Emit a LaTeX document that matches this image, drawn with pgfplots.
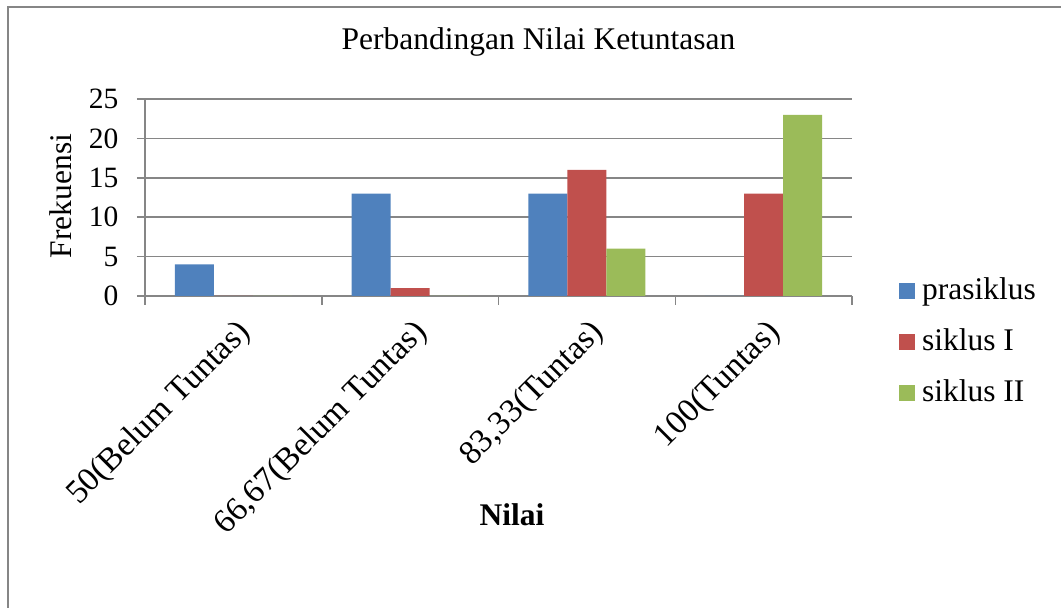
\documentclass[border=0pt]{standalone}
\usepackage{pgfplots}
\pgfplotsset{compat=1.18}
\usepackage{fontspec}
\setmainfont{Liberation Serif}
\definecolor{cblue}{HTML}{4F81BD}
\definecolor{cred}{HTML}{C0504D}
\definecolor{cgreen}{HTML}{9BBB59}
\definecolor{gline}{HTML}{868686}
\newcommand{\bigf}{\fontsize{31.5bp}{36bp}\selectfont}
\newcommand{\ytf}{\fontsize{29.5bp}{34bp}\selectfont}
\newcommand{\xtf}{\fontsize{33.5bp}{38bp}\selectfont}
\begin{document}
\begin{tikzpicture}
\useasboundingbox (0bp,0bp) rectangle (1061bp,608bp);
\draw[gline, line width=1.5bp] (8bp,-20bp) -- (8bp,601bp) -- (1090bp,601bp);
\begin{axis}[
  at={(145bp,312bp)}, anchor=south west,
  scale only axis, width=707bp, height=197bp,
  xmin=-0.5, xmax=3.5, ymin=0, ymax=25,
  ybar=0pt, bar width=39bp,
  axis x line*=bottom, axis y line*=left,
  axis line style={gline, line width=1.5bp, -},
  ytick={0,5,10,15,20,25},
  ymajorgrids, grid style={gline, line width=1.5bp},
  tick align=outside,
  major tick length=8bp,
  every tick/.style={gline, line width=1.5bp},
  xtick={0,1,2,3},
  major x tick style={draw=none},
  xticklabels={50(Belum Tuntas),66{,}67(Belum Tuntas),83{,}33(Tuntas),100(Tuntas)},
  extra x ticks={-0.5,0.5,1.5,2.5,3.5},
  extra x tick labels={},
  extra x tick style={grid=none, major tick length=9bp, major x tick style={draw=gline, line width=1.5bp}},
  /pgf/number format/assume math mode=true,
  y tick label style={font=\ytf, xshift=-15bp},
  x tick label style={font=\xtf, rotate=45, anchor=north east, inner sep=2bp, xshift=-6bp, yshift=-8bp},
  title={Perbandingan Nilai Ketuntasan},
  title style={font=\bigf, at={(axis description cs:0.5566,1.259)}, anchor=center},
  ylabel={Frekuensi},
  ylabel style={font=\bigf, at={(axis description cs:-0.119,0.508)}, anchor=center, rotate=0},
  xlabel={\textbf{Nilai}},
  xlabel style={font=\bigf, at={(axis description cs:0.519,-1.112)}, anchor=center},
  legend style={draw=none, fill=none, font=\bigf,
    at={(axis description cs:1.062,-0.238)}, anchor=west,
    nodes={inner sep=0pt, text height=22bp, text depth=7bp},
    row sep=22bp, column sep=7bp},
  legend cell align=left,
  legend image code/.code={\fill[#1] (0bp,-7bp) rectangle (16bp,9bp);},
]
\addplot[fill=cblue, draw=none] coordinates {(0,4) (1,13) (2,13) (3,0)};
\addplot[fill=cred, draw=none] coordinates {(0,0) (1,1) (2,16) (3,13)};
\addplot[fill=cgreen, draw=none] coordinates {(0,0) (1,0) (2,6) (3,23)};
\legend{prasiklus, siklus I, siklus II}
\end{axis}
\end{tikzpicture}
\end{document}
